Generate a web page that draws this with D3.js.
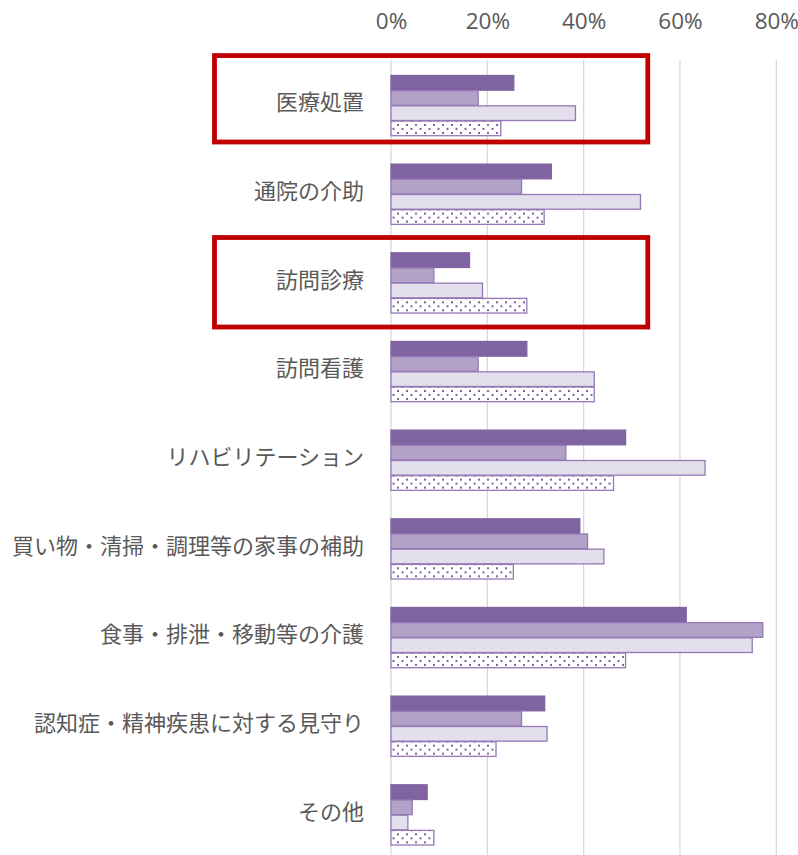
<!DOCTYPE html>
<html>
<head>
<meta charset="utf-8">
<script src="https://cdn.jsdelivr.net/npm/d3@7"></script>
<style>
  html, body { margin: 0; padding: 0; background: #fff; }
  svg { display: block; }
</style>
</head>
<body>
<div id="chart"></div>
<script>
const categories = ["医療処置", "通院の介助", "訪問診療", "訪問看護", "リハビリテーション",
  "買い物・清掃・調理等の家事の補助", "食事・排泄・移動等の介護", "認知症・精神疾患に対する見守り", "その他"];
const seriesNames = ["系列1", "系列2", "系列3", "系列4"];
const series1 = [25.5, 33.3, 16.3, 28.2, 48.7, 39.2, 61.3, 31.9, 7.5];
const series2 = [18.1, 27.1, 8.9, 18.1, 36.3, 40.8, 77.2, 27.1, 4.4];
const series3 = [38.3, 51.8, 19.0, 42.2, 65.2, 44.2, 75.0, 32.4, 3.5];
const series4 = [22.8, 31.8, 28.2, 42.2, 46.2, 25.4, 48.7, 21.8, 8.9];
const tickValues = [0, 20, 40, 60, 80];
const highlighted = ["医療処置", "訪問診療"];

const seriesValues = [series1, series2, series3, series4];
const W = 798, H = 855;
const svg = d3.select("#chart").append("svg").attr("width", W).attr("height", H);

const defs = svg.append("defs");
const pat = defs.append("pattern").attr("id", "dots").attr("patternUnits", "userSpaceOnUse")
  .attr("width", 9).attr("height", 8);
pat.append("rect").attr("width", 9).attr("height", 8).attr("fill", "#fff");
pat.append("rect").attr("x", 1).attr("y", 1).attr("width", 2).attr("height", 2).attr("fill", "#8064a2");
pat.append("rect").attr("x", 5.5).attr("y", 5).attr("width", 2).attr("height", 2).attr("fill", "#8064a2");

const x = d3.scaleLinear().domain([0, 80]).range([391, 776.3]);
const y = d3.scaleBand().domain(categories).range([61, 859]).paddingInner(0.315).paddingOuter(0.1575);
const ySub = d3.scaleBand().domain(seriesNames).range([0, y.bandwidth()]).padding(0);

const fills = ["#8064a2", "#b2a2c7", "#e4dfec", "url(#dots)"];
const strokes = ["#8064a2", "#9479b6", "#9479b6", "#9479b6"];

// gridlines
svg.append("g").selectAll("line").data(tickValues).join("line")
  .attr("x1", d => x(d)).attr("x2", d => x(d))
  .attr("y1", 60).attr("y2", H)
  .attr("stroke", "#d9d9d9").attr("stroke-width", 1.3);

// top axis tick labels
const axis = d3.axisTop(x).tickValues(tickValues).tickFormat(d => d + "%").tickSize(0).tickPadding(0);
const ax = svg.append("g").attr("transform", "translate(0,29)").call(axis);
ax.select(".domain").remove();
ax.selectAll("text").attr("fill", "#595959").attr("font-size", "22.5px")
  .attr("font-family", "'Open Sans', 'Noto Sans', sans-serif").attr("dy", "0");

// bars
const groups = svg.append("g").selectAll("g").data(categories).join("g")
  .attr("transform", d => `translate(0,${y(d)})`);
groups.selectAll("rect").data((c, i) => seriesNames.map((s, j) => ({ s, j, v: seriesValues[j][i] })))
  .join("rect")
  .attr("x", x(0))
  .attr("y", d => ySub(d.s) + 0.5)
  .attr("width", d => x(d.v) - x(0))
  .attr("height", ySub.bandwidth() - 0.5)
  .attr("fill", d => fills[d.j])
  .attr("stroke", d => strokes[d.j])
  .attr("stroke-width", 1.3);

// category labels
svg.append("g").selectAll("text").data(categories).join("text")
  .attr("x", 364)
  .attr("y", d => y(d) + y.bandwidth() / 2 - 5)
  .attr("text-anchor", "end")
  .attr("dominant-baseline", "central")
  .attr("fill", "#595959")
  .attr("font-size", "22px")
  .attr("font-family", "'Noto Sans CJK JP', sans-serif")
  .text(d => d);

// highlight boxes
const boxOffsets = { "医療処置": [-19.4, 6.3], "訪問診療": [-14.8, 14] };
svg.append("g").selectAll("rect").data(highlighted).join("rect")
  .attr("x", 214.5)
  .attr("y", d => y(d) + boxOffsets[d][0])
  .attr("width", 647.8 - 214.5)
  .attr("height", d => y.bandwidth() - boxOffsets[d][0] + boxOffsets[d][1])
  .attr("fill", "none")
  .attr("stroke", "#c00000")
  .attr("stroke-width", 4.8);
</script>
</body>
</html>
